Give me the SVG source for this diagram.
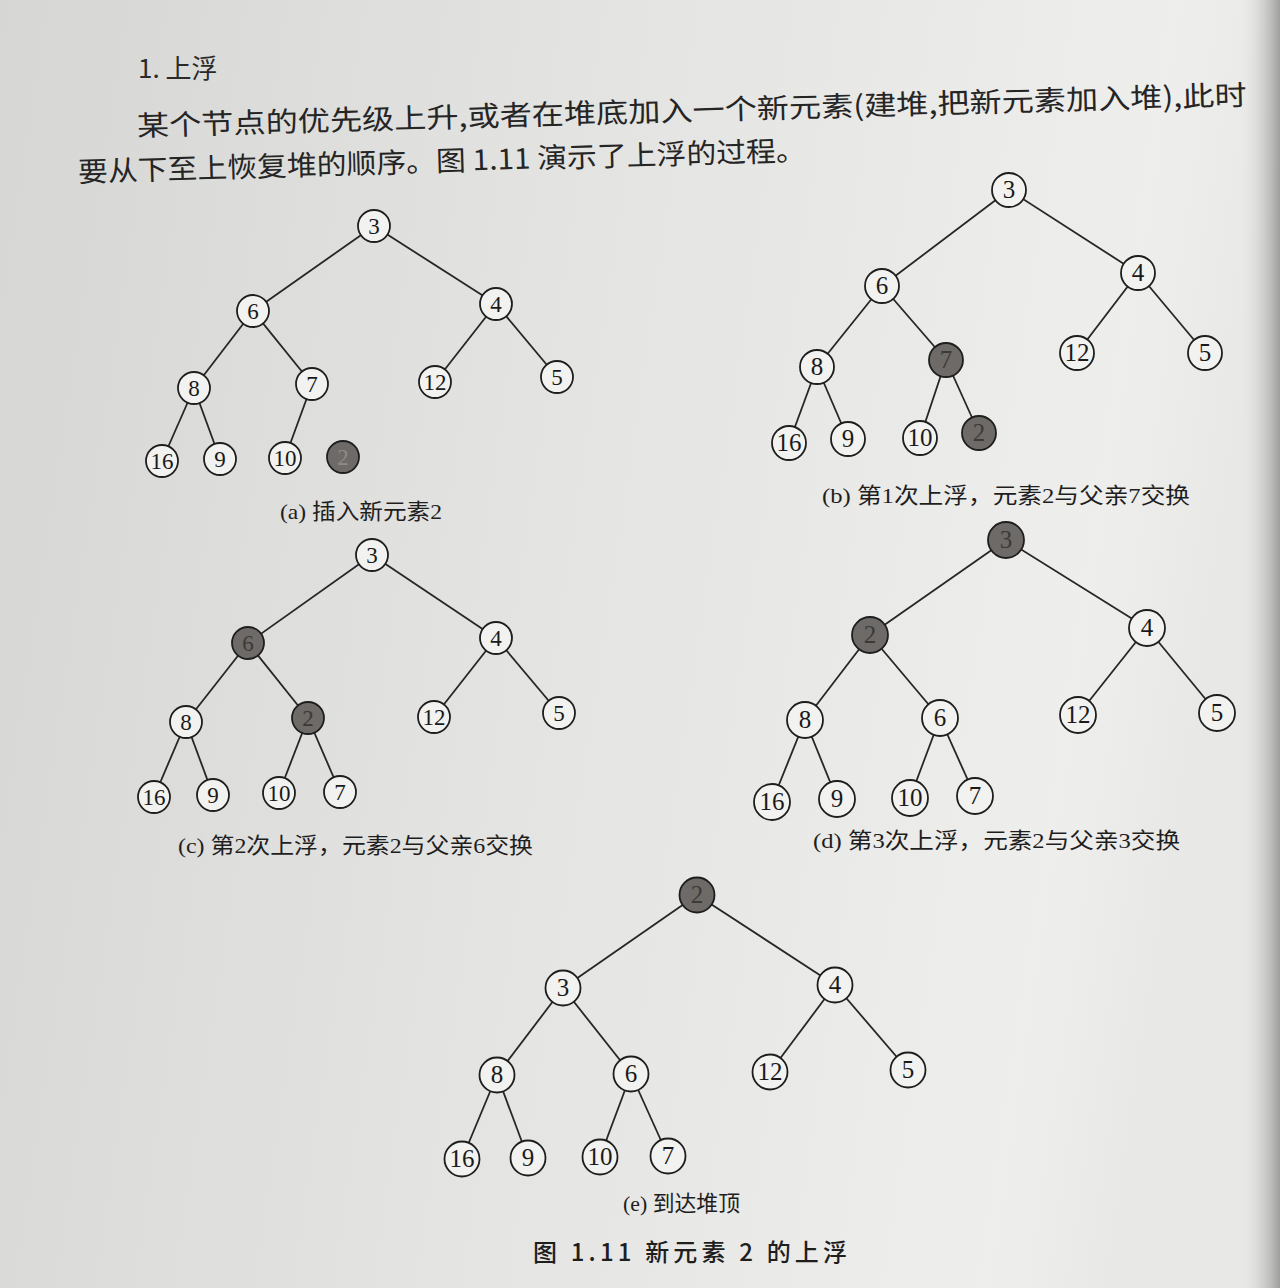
<svg xmlns="http://www.w3.org/2000/svg" width="1280" height="1288" viewBox="0 0 1280 1288">
<defs>
<linearGradient id="paper" x1="0" y1="0" x2="1" y2="0.15">
<stop offset="0" stop-color="#d6d6d4"/>
<stop offset="0.45" stop-color="#e3e3e1"/>
<stop offset="0.9" stop-color="#eeeeec"/>
<stop offset="1" stop-color="#e8e8e6"/>
</linearGradient>
<linearGradient id="edge" x1="0" y1="0" x2="1" y2="0">
<stop offset="0" stop-color="#e6e6e4" stop-opacity="0"/>
<stop offset="1" stop-color="#8c8c8a" stop-opacity="0.8"/>
</linearGradient>
<style>
.e{stroke:#262626;stroke-width:1.8;fill:none}
.n{fill:#f2f2f0;stroke:#1e1e1e;stroke-width:1.8}
.g{fill:#6d6a67;stroke:#1e1e1e;stroke-width:1.8}
.t{font-family:"Liberation Serif","Times New Roman",serif;font-size:23px;fill:#1a1a1a;text-anchor:middle}
.tg{font-family:"Liberation Serif","Times New Roman",serif;font-size:23px;fill:#3c3a38;text-anchor:middle}
.big .t,.big .tg{font-size:25px}
.cap{font-family:"Liberation Serif","Noto Sans CJK SC",serif;font-size:22px;fill:#1e1e1e}
.body{font-family:"Noto Sans CJK SC","Noto Sans CJK JP",sans-serif;font-size:28px;fill:#252525;font-weight:400}
.head{font-family:"Noto Sans CJK SC",sans-serif;font-size:26px;fill:#2a2a2a;font-weight:400}
.title{font-family:"Noto Sans CJK SC",sans-serif;font-size:24px;fill:#1e1e1e;font-weight:500}
</style>
</defs>
<rect x="0" y="0" width="1280" height="1288" fill="url(#paper)"/>
<rect x="1240" y="0" width="40" height="1288" fill="url(#edge)"/>

<!-- page text -->
<text class="head" x="138" y="78">1. 上浮</text>
<text class="body" x="137" y="136" transform="rotate(-1.6 137 126)" textLength="1110" lengthAdjust="spacingAndGlyphs">某个节点的优先级上升,或者在堆底加入一个新元素(建堆,把新元素加入堆),此时</text>
<text class="body" x="78" y="182" transform="rotate(-1.7 78 172)" textLength="728" lengthAdjust="spacingAndGlyphs">要从下至上恢复堆的顺序。图 1.11 演示了上浮的过程。</text>

<!-- (a) -->
<g id="tree-a">
<g id="a-connectors">
<line class="e" x1="374" y1="226" x2="253" y2="311"/>
<line class="e" x1="374" y1="226" x2="496" y2="304"/>
<line class="e" x1="253" y1="311" x2="194" y2="388"/>
<line class="e" x1="253" y1="311" x2="312" y2="384"/>
<line class="e" x1="496" y1="304" x2="435" y2="382"/>
<line class="e" x1="496" y1="304" x2="557" y2="377"/>
<line class="e" x1="194" y1="388" x2="162" y2="461"/>
<line class="e" x1="194" y1="388" x2="220" y2="459"/>
<line class="e" x1="312" y1="384" x2="285" y2="458"/>
</g>
<g id="a-3"><circle class="n" cx="374" cy="226" r="16"/><text class="t" x="374" y="234">3</text></g>
<g id="a-6"><circle class="n" cx="253" cy="311" r="16"/><text class="t" x="253" y="319">6</text></g>
<g id="a-4"><circle class="n" cx="496" cy="304" r="16"/><text class="t" x="496" y="312">4</text></g>
<g id="a-8"><circle class="n" cx="194" cy="388" r="16"/><text class="t" x="194" y="396">8</text></g>
<g id="a-7"><circle class="n" cx="312" cy="384" r="16"/><text class="t" x="312" y="392">7</text></g>
<g id="a-12"><circle class="n" cx="435" cy="382" r="16"/><text class="t" x="435" y="390">12</text></g>
<g id="a-5"><circle class="n" cx="557" cy="377" r="16"/><text class="t" x="557" y="385">5</text></g>
<g id="a-16"><circle class="n" cx="162" cy="461" r="16"/><text class="t" x="162" y="469">16</text></g>
<g id="a-9"><circle class="n" cx="220" cy="459" r="16"/><text class="t" x="220" y="467">9</text></g>
<g id="a-10"><circle class="n" cx="285" cy="458" r="16"/><text class="t" x="285" y="466">10</text></g>
<g id="a-2"><circle class="g" cx="343" cy="457" r="16" stroke="#3a3a3a" stroke-width="1"/><text class="tg" x="343" y="465" style="fill:#8e8b88">2</text></g>
<text class="cap" x="280" y="519" textLength="162" lengthAdjust="spacingAndGlyphs">(a) 插入新元素2</text>
</g>

<!-- (b) -->
<g id="tree-b" class="big">
<g id="b-connectors">
<line class="e" x1="1009" y1="190" x2="882" y2="286"/>
<line class="e" x1="1009" y1="190" x2="1138" y2="273"/>
<line class="e" x1="882" y1="286" x2="817" y2="367"/>
<line class="e" x1="882" y1="286" x2="946" y2="360"/>
<line class="e" x1="1138" y1="273" x2="1077" y2="353"/>
<line class="e" x1="1138" y1="273" x2="1205" y2="353"/>
<line class="e" x1="817" y1="367" x2="789" y2="443"/>
<line class="e" x1="817" y1="367" x2="848" y2="439"/>
<line class="e" x1="946" y1="360" x2="920" y2="438"/>
<line class="e" x1="946" y1="360" x2="979" y2="433"/>
</g>
<g id="b-3"><circle class="n" cx="1009" cy="190" r="17"/><text class="t" x="1009" y="198">3</text></g>
<g id="b-6"><circle class="n" cx="882" cy="286" r="17"/><text class="t" x="882" y="294">6</text></g>
<g id="b-4"><circle class="n" cx="1138" cy="273" r="17"/><text class="t" x="1138" y="281">4</text></g>
<g id="b-8"><circle class="n" cx="817" cy="367" r="17"/><text class="t" x="817" y="375">8</text></g>
<g id="b-7"><circle class="g" cx="946" cy="360" r="17"/><text class="tg" x="946" y="368">7</text></g>
<g id="b-12"><circle class="n" cx="1077" cy="353" r="17"/><text class="t" x="1077" y="361">12</text></g>
<g id="b-5"><circle class="n" cx="1205" cy="353" r="17"/><text class="t" x="1205" y="361">5</text></g>
<g id="b-16"><circle class="n" cx="789" cy="443" r="17"/><text class="t" x="789" y="451">16</text></g>
<g id="b-9"><circle class="n" cx="848" cy="439" r="17"/><text class="t" x="848" y="447">9</text></g>
<g id="b-10"><circle class="n" cx="920" cy="438" r="17"/><text class="t" x="920" y="446">10</text></g>
<g id="b-2"><circle class="g" cx="979" cy="433" r="17"/><text class="tg" x="979" y="441">2</text></g>
<text class="cap" x="822" y="503" textLength="368" lengthAdjust="spacingAndGlyphs">(b) 第1次上浮，元素2与父亲7交换</text>
</g>

<!-- (c) -->
<g id="tree-c">
<g id="c-connectors">
<line class="e" x1="372" y1="555" x2="248" y2="643"/>
<line class="e" x1="372" y1="555" x2="496" y2="638"/>
<line class="e" x1="248" y1="643" x2="186" y2="722"/>
<line class="e" x1="248" y1="643" x2="308" y2="718"/>
<line class="e" x1="496" y1="638" x2="434" y2="717"/>
<line class="e" x1="496" y1="638" x2="559" y2="713"/>
<line class="e" x1="186" y1="722" x2="154" y2="797"/>
<line class="e" x1="186" y1="722" x2="213" y2="795"/>
<line class="e" x1="308" y1="718" x2="279" y2="793"/>
<line class="e" x1="308" y1="718" x2="340" y2="792"/>
</g>
<g id="c-3"><circle class="n" cx="372" cy="555" r="16"/><text class="t" x="372" y="563">3</text></g>
<g id="c-6"><circle class="g" cx="248" cy="643" r="16"/><text class="tg" x="248" y="651">6</text></g>
<g id="c-4"><circle class="n" cx="496" cy="638" r="16"/><text class="t" x="496" y="646">4</text></g>
<g id="c-8"><circle class="n" cx="186" cy="722" r="16"/><text class="t" x="186" y="730">8</text></g>
<g id="c-2"><circle class="g" cx="308" cy="718" r="16"/><text class="tg" x="308" y="726">2</text></g>
<g id="c-12"><circle class="n" cx="434" cy="717" r="16"/><text class="t" x="434" y="725">12</text></g>
<g id="c-5"><circle class="n" cx="559" cy="713" r="16"/><text class="t" x="559" y="721">5</text></g>
<g id="c-16"><circle class="n" cx="154" cy="797" r="16"/><text class="t" x="154" y="805">16</text></g>
<g id="c-9"><circle class="n" cx="213" cy="795" r="16"/><text class="t" x="213" y="803">9</text></g>
<g id="c-10"><circle class="n" cx="279" cy="793" r="16"/><text class="t" x="279" y="801">10</text></g>
<g id="c-7"><circle class="n" cx="340" cy="792" r="16"/><text class="t" x="340" y="800">7</text></g>
<text class="cap" x="178" y="853" textLength="355" lengthAdjust="spacingAndGlyphs">(c) 第2次上浮，元素2与父亲6交换</text>
</g>

<!-- (d) -->
<g id="tree-d" class="big">
<g id="d-connectors">
<line class="e" x1="1006" y1="540" x2="870" y2="635"/>
<line class="e" x1="1006" y1="540" x2="1147" y2="628"/>
<line class="e" x1="870" y1="635" x2="805" y2="720"/>
<line class="e" x1="870" y1="635" x2="940" y2="718"/>
<line class="e" x1="1147" y1="628" x2="1078" y2="715"/>
<line class="e" x1="1147" y1="628" x2="1217" y2="713"/>
<line class="e" x1="805" y1="720" x2="772" y2="802"/>
<line class="e" x1="805" y1="720" x2="837" y2="799"/>
<line class="e" x1="940" y1="718" x2="910" y2="798"/>
<line class="e" x1="940" y1="718" x2="975" y2="796"/>
</g>
<g id="d-3"><circle class="g" cx="1006" cy="540" r="18"/><text class="tg" x="1006" y="548">3</text></g>
<g id="d-2"><circle class="g" cx="870" cy="635" r="18"/><text class="tg" x="870" y="643">2</text></g>
<g id="d-4"><circle class="n" cx="1147" cy="628" r="18"/><text class="t" x="1147" y="636">4</text></g>
<g id="d-8"><circle class="n" cx="805" cy="720" r="18"/><text class="t" x="805" y="728">8</text></g>
<g id="d-6"><circle class="n" cx="940" cy="718" r="18"/><text class="t" x="940" y="726">6</text></g>
<g id="d-12"><circle class="n" cx="1078" cy="715" r="18"/><text class="t" x="1078" y="723">12</text></g>
<g id="d-5"><circle class="n" cx="1217" cy="713" r="18"/><text class="t" x="1217" y="721">5</text></g>
<g id="d-16"><circle class="n" cx="772" cy="802" r="18"/><text class="t" x="772" y="810">16</text></g>
<g id="d-9"><circle class="n" cx="837" cy="799" r="18"/><text class="t" x="837" y="807">9</text></g>
<g id="d-10"><circle class="n" cx="910" cy="798" r="18"/><text class="t" x="910" y="806">10</text></g>
<g id="d-7"><circle class="n" cx="975" cy="796" r="18"/><text class="t" x="975" y="804">7</text></g>
<text class="cap" x="813" y="848" textLength="367" lengthAdjust="spacingAndGlyphs">(d) 第3次上浮，元素2与父亲3交换</text>
</g>

<!-- (e) -->
<g id="tree-e" class="big">
<g id="e-connectors">
<line class="e" x1="697" y1="895" x2="563" y2="988"/>
<line class="e" x1="697" y1="895" x2="835" y2="985"/>
<line class="e" x1="563" y1="988" x2="497" y2="1075"/>
<line class="e" x1="563" y1="988" x2="631" y2="1074"/>
<line class="e" x1="835" y1="985" x2="770" y2="1072"/>
<line class="e" x1="835" y1="985" x2="908" y2="1070"/>
<line class="e" x1="497" y1="1075" x2="462" y2="1159"/>
<line class="e" x1="497" y1="1075" x2="528" y2="1158"/>
<line class="e" x1="631" y1="1074" x2="600" y2="1157"/>
<line class="e" x1="631" y1="1074" x2="668" y2="1156"/>
</g>
<g id="e-2"><circle class="g" cx="697" cy="895" r="17.5"/><text class="tg" x="697" y="903">2</text></g>
<g id="e-3"><circle class="n" cx="563" cy="988" r="17.5"/><text class="t" x="563" y="996">3</text></g>
<g id="e-4"><circle class="n" cx="835" cy="985" r="17.5"/><text class="t" x="835" y="993">4</text></g>
<g id="e-8"><circle class="n" cx="497" cy="1075" r="17.5"/><text class="t" x="497" y="1083">8</text></g>
<g id="e-6"><circle class="n" cx="631" cy="1074" r="17.5"/><text class="t" x="631" y="1082">6</text></g>
<g id="e-12"><circle class="n" cx="770" cy="1072" r="17.5"/><text class="t" x="770" y="1080">12</text></g>
<g id="e-5"><circle class="n" cx="908" cy="1070" r="17.5"/><text class="t" x="908" y="1078">5</text></g>
<g id="e-16"><circle class="n" cx="462" cy="1159" r="17.5"/><text class="t" x="462" y="1167">16</text></g>
<g id="e-9"><circle class="n" cx="528" cy="1158" r="17.5"/><text class="t" x="528" y="1166">9</text></g>
<g id="e-10"><circle class="n" cx="600" cy="1157" r="17.5"/><text class="t" x="600" y="1165">10</text></g>
<g id="e-7"><circle class="n" cx="668" cy="1156" r="17.5"/><text class="t" x="668" y="1164">7</text></g>
<text class="cap" x="623" y="1211" textLength="117" lengthAdjust="spacingAndGlyphs">(e) 到达堆顶</text>
</g>

<text class="title" x="533" y="1261" textLength="314" lengthAdjust="spacing">图 1.11   新元素 2 的上浮</text>
</svg>
